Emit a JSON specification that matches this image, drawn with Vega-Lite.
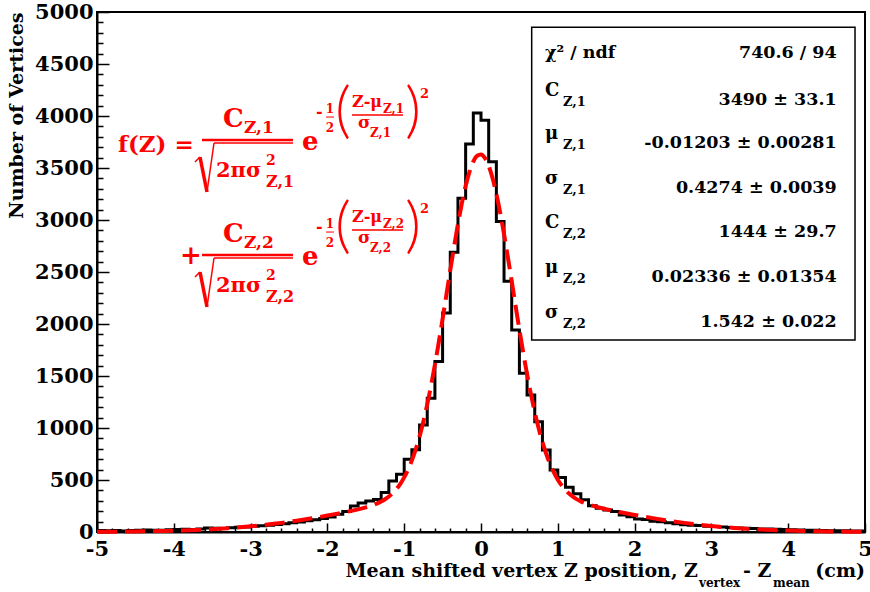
{
  "$schema": "https://vega.github.io/schema/vega-lite/v6.json",
  "width": 768,
  "height": 520,
  "autosize": "none",
  "padding": {"left": 97, "top": 12, "right": 5, "bottom": 60},
  "background": "white",
  "config": {
    "view": {"stroke": "black", "strokeWidth": 2},
    "font": "DejaVu Serif",
    "text": {"font": "DejaVu Serif", "fontWeight": "bold"}
  },
  "datasets": {
    "hist": [
      {"x": -5.0, "n": 15}, {"x": -4.9, "n": 12}, {"x": -4.8, "n": 14}, {"x": -4.7, "n": 10}, {"x": -4.6, "n": 15},
      {"x": -4.5, "n": 18}, {"x": -4.4, "n": 20}, {"x": -4.3, "n": 16}, {"x": -4.2, "n": 17}, {"x": -4.1, "n": 22},
      {"x": -4.0, "n": 24}, {"x": -3.9, "n": 26}, {"x": -3.8, "n": 24}, {"x": -3.7, "n": 30}, {"x": -3.6, "n": 38},
      {"x": -3.5, "n": 36}, {"x": -3.4, "n": 34}, {"x": -3.3, "n": 40}, {"x": -3.2, "n": 45}, {"x": -3.1, "n": 48},
      {"x": -3.0, "n": 55}, {"x": -2.9, "n": 60}, {"x": -2.8, "n": 66}, {"x": -2.7, "n": 72}, {"x": -2.6, "n": 80},
      {"x": -2.5, "n": 88}, {"x": -2.4, "n": 96}, {"x": -2.3, "n": 108}, {"x": -2.2, "n": 118}, {"x": -2.1, "n": 130},
      {"x": -2.0, "n": 145}, {"x": -1.9, "n": 170}, {"x": -1.8, "n": 196}, {"x": -1.7, "n": 250}, {"x": -1.6, "n": 280},
      {"x": -1.5, "n": 298}, {"x": -1.4, "n": 312}, {"x": -1.3, "n": 380}, {"x": -1.2, "n": 490}, {"x": -1.1, "n": 555},
      {"x": -1.0, "n": 700}, {"x": -0.9, "n": 790}, {"x": -0.8, "n": 1030}, {"x": -0.7, "n": 1285}, {"x": -0.6, "n": 1640},
      {"x": -0.5, "n": 2105}, {"x": -0.4, "n": 2690}, {"x": -0.3, "n": 3210}, {"x": -0.2, "n": 3730}, {"x": -0.1, "n": 4030},
      {"x": 0.0, "n": 3960}, {"x": 0.1, "n": 3560}, {"x": 0.2, "n": 2985}, {"x": 0.3, "n": 2410}, {"x": 0.4, "n": 1942},
      {"x": 0.5, "n": 1526}, {"x": 0.6, "n": 1317}, {"x": 0.7, "n": 1061}, {"x": 0.8, "n": 788}, {"x": 0.9, "n": 596},
      {"x": 1.0, "n": 525}, {"x": 1.1, "n": 430}, {"x": 1.2, "n": 368}, {"x": 1.3, "n": 310}, {"x": 1.4, "n": 252},
      {"x": 1.5, "n": 228}, {"x": 1.6, "n": 212}, {"x": 1.7, "n": 196}, {"x": 1.8, "n": 163}, {"x": 1.9, "n": 147},
      {"x": 2.0, "n": 124}, {"x": 2.1, "n": 120}, {"x": 2.2, "n": 104}, {"x": 2.3, "n": 99}, {"x": 2.4, "n": 88},
      {"x": 2.5, "n": 80}, {"x": 2.6, "n": 70}, {"x": 2.7, "n": 66}, {"x": 2.8, "n": 62}, {"x": 2.9, "n": 56},
      {"x": 3.0, "n": 52}, {"x": 3.1, "n": 48}, {"x": 3.2, "n": 44}, {"x": 3.3, "n": 38}, {"x": 3.4, "n": 36},
      {"x": 3.5, "n": 34}, {"x": 3.6, "n": 30}, {"x": 3.7, "n": 28}, {"x": 3.8, "n": 26}, {"x": 3.9, "n": 24},
      {"x": 4.0, "n": 22}, {"x": 4.1, "n": 20}, {"x": 4.2, "n": 18}, {"x": 4.3, "n": 16}, {"x": 4.4, "n": 14},
      {"x": 4.5, "n": 13}, {"x": 4.6, "n": 12}, {"x": 4.7, "n": 11}, {"x": 4.8, "n": 10}, {"x": 4.9, "n": 10},
      {"x": 5.0, "n": 10}
    ],
    "fit": [
      {"x": -5.0, "f": 1.85}, {"x": -4.9, "f": 2.28}, {"x": -4.8, "f": 2.8}, {"x": -4.7, "f": 3.43}, {"x": -4.6, "f": 4.17},
      {"x": -4.5, "f": 5.06}, {"x": -4.4, "f": 6.1}, {"x": -4.3, "f": 7.33}, {"x": -4.2, "f": 8.78}, {"x": -4.1, "f": 10.46},
      {"x": -4.0, "f": 12.42}, {"x": -3.9, "f": 14.67}, {"x": -3.8, "f": 17.27}, {"x": -3.7, "f": 20.25}, {"x": -3.6, "f": 23.63},
      {"x": -3.5, "f": 27.46}, {"x": -3.4, "f": 31.77}, {"x": -3.3, "f": 36.62}, {"x": -3.2, "f": 42.02}, {"x": -3.1, "f": 48.03},
      {"x": -3.0, "f": 54.65}, {"x": -2.9, "f": 61.93}, {"x": -2.8, "f": 69.89}, {"x": -2.7, "f": 78.53}, {"x": -2.6, "f": 87.87},
      {"x": -2.5, "f": 97.93}, {"x": -2.4, "f": 108.66}, {"x": -2.3, "f": 120.07}, {"x": -2.2, "f": 132.11}, {"x": -2.1, "f": 144.76},
      {"x": -2.0, "f": 158.0}, {"x": -1.9, "f": 171.8}, {"x": -1.8, "f": 186.2}, {"x": -1.7, "f": 201.4}, {"x": -1.6, "f": 217.9},
      {"x": -1.55, "f": 227.0}, {"x": -1.5, "f": 236.9}, {"x": -1.45, "f": 248.0}, {"x": -1.4, "f": 260.7}, {"x": -1.35, "f": 275.6},
      {"x": -1.3, "f": 293.3}, {"x": -1.25, "f": 314.7}, {"x": -1.2, "f": 341.1}, {"x": -1.15, "f": 373.7}, {"x": -1.1, "f": 414.1},
      {"x": -1.05, "f": 463.7}, {"x": -1.0, "f": 525.0}, {"x": -0.95, "f": 599.2}, {"x": -0.9, "f": 688.7}, {"x": -0.85, "f": 794.6},
      {"x": -0.8, "f": 919.4}, {"x": -0.75, "f": 1063.0}, {"x": -0.7, "f": 1226.5}, {"x": -0.65, "f": 1408.6}, {"x": -0.6, "f": 1608.8},
      {"x": -0.55, "f": 1823.8}, {"x": -0.5, "f": 2050.3}, {"x": -0.45, "f": 2283.3}, {"x": -0.4, "f": 2517.5}, {"x": -0.35, "f": 2745.6},
      {"x": -0.3, "f": 2961.5}, {"x": -0.25, "f": 3157.5}, {"x": -0.2, "f": 3327.0}, {"x": -0.15, "f": 3463.2}, {"x": -0.1, "f": 3561.7},
      {"x": -0.05, "f": 3617.8}, {"x": 0.0, "f": 3629.9}, {"x": 0.05, "f": 3596.8}, {"x": 0.1, "f": 3520.7}, {"x": 0.15, "f": 3403.8},
      {"x": 0.2, "f": 3251.6}, {"x": 0.25, "f": 3068.9}, {"x": 0.3, "f": 2863.1}, {"x": 0.35, "f": 2640.7}, {"x": 0.4, "f": 2409.5},
      {"x": 0.45, "f": 2175.5}, {"x": 0.5, "f": 1945.6}, {"x": 0.55, "f": 1724.4}, {"x": 0.6, "f": 1516.9}, {"x": 0.65, "f": 1325.3},
      {"x": 0.7, "f": 1152.6}, {"x": 0.75, "f": 998.9}, {"x": 0.8, "f": 865.0}, {"x": 0.85, "f": 749.7}, {"x": 0.9, "f": 652.2},
      {"x": 0.95, "f": 570.5}, {"x": 1.0, "f": 503.1}, {"x": 1.05, "f": 447.8}, {"x": 1.1, "f": 403.2}, {"x": 1.15, "f": 366.9},
      {"x": 1.2, "f": 337.7}, {"x": 1.25, "f": 313.9}, {"x": 1.3, "f": 294.5}, {"x": 1.35, "f": 278.3}, {"x": 1.4, "f": 264.7},
      {"x": 1.45, "f": 252.9}, {"x": 1.5, "f": 242.4}, {"x": 1.55, "f": 233.0}, {"x": 1.6, "f": 224.2}, {"x": 1.7, "f": 207.9},
      {"x": 1.8, "f": 192.8}, {"x": 1.9, "f": 178.2}, {"x": 2.0, "f": 164.3}, {"x": 2.1, "f": 150.9}, {"x": 2.2, "f": 138.0},
      {"x": 2.3, "f": 125.6}, {"x": 2.4, "f": 113.9}, {"x": 2.5, "f": 102.9}, {"x": 2.6, "f": 92.5}, {"x": 2.7, "f": 82.8},
      {"x": 2.8, "f": 73.9}, {"x": 2.9, "f": 65.6}, {"x": 3.0, "f": 58.0}, {"x": 3.1, "f": 51.1}, {"x": 3.2, "f": 44.8},
      {"x": 3.3, "f": 39.1}, {"x": 3.4, "f": 34.0}, {"x": 3.5, "f": 29.4}, {"x": 3.6, "f": 25.4}, {"x": 3.7, "f": 21.8},
      {"x": 3.8, "f": 18.6}, {"x": 3.9, "f": 15.9}, {"x": 4.0, "f": 13.4}, {"x": 4.1, "f": 11.3}, {"x": 4.2, "f": 9.5},
      {"x": 4.3, "f": 8.0}, {"x": 4.4, "f": 6.7}, {"x": 4.5, "f": 5.5}, {"x": 4.6, "f": 4.6}, {"x": 4.7, "f": 3.8},
      {"x": 4.8, "f": 3.1}, {"x": 4.9, "f": 2.5}, {"x": 5.0, "f": 2.1}
    ],
    "stats": [
      {"row": 1, "sym": "χ² / ndf", "sub": "", "val": "740.6 / 94"},
      {"row": 2, "sym": "C", "sub": "Z,1", "val": "3490 ± 33.1"},
      {"row": 3, "sym": "μ", "sub": "Z,1", "val": "-0.01203 ± 0.00281"},
      {"row": 4, "sym": "σ", "sub": "Z,1", "val": "0.4274 ± 0.0039"},
      {"row": 5, "sym": "C", "sub": "Z,2", "val": "1444 ± 29.7"},
      {"row": 6, "sym": "μ", "sub": "Z,2", "val": "0.02336 ± 0.01354"},
      {"row": 7, "sym": "σ", "sub": "Z,2", "val": "1.542 ± 0.022"}
    ]
  },
  "resolve": {"axis": {"x": "independent", "y": "independent"}},
  "layer": [
    {
      "data": {"values": [{}]},
      "layer": [
        {
          "data": {"name": "hist"},
          "mark": {"type": "line", "interpolate": "step-after", "color": "black", "strokeWidth": 3},
          "encoding": {
            "x": {"field": "x", "type": "quantitative",
              "scale": {"domain": [-5, 5], "nice": false, "zero": false},
              "axis": {"orient": "bottom", "values": [-5, -4, -3, -2, -1, 0, 1, 2, 3, 4, 5], "labelExpr": "'' + datum.value",
                "tickSize": -9, "tickWidth": 1.5, "tickColor": "black", "domainColor": "black", "domainWidth": 2,
                "labelFont": "DejaVu Serif", "labelFontWeight": "bold", "labelFontSize": 21, "labelColor": "black",
                "labelPadding": 15, "labelOverlap": false, "labelFlush": false, "title": null, "grid": false}},
            "y": {"field": "n", "type": "quantitative",
              "scale": {"domain": [0, 5000], "nice": false, "zero": true},
              "axis": {"orient": "left", "values": [0, 500, 1000, 1500, 2000, 2500, 3000, 3500, 4000, 4500, 5000], "labelExpr": "'' + datum.value",
                "tickSize": -12, "tickWidth": 1.5, "tickColor": "black", "domainColor": "black", "domainWidth": 2,
                "labelFont": "DejaVu Serif", "labelFontWeight": "bold", "labelFontSize": 21, "labelColor": "black",
                "labelPadding": 16, "labelOverlap": false, "labelFlush": false, "grid": false,
                "title": "Number of Vertices", "titleFont": "DejaVu Serif", "titleFontWeight": "bold", "titleFontSize": 19,
                "titleColor": "black", "titleAnchor": "end", "titlePadding": 8}}
          }
        },
        {
          "mark": {"type": "rect", "fill": "white", "stroke": "black", "strokeWidth": 1.5},
          "encoding": {"x": {"datum": 0.66}, "x2": {"datum": 4.87}, "y": {"datum": 4853}, "y2": {"datum": 1846}}
        },
        {
          "data": {"name": "stats"},
          "transform": [{"filter": "datum.row == 1"}],
          "encoding": {"y": {"datum": 4557.7}},
          "layer": [
            {"mark": {"type": "text", "align": "left", "baseline": "alphabetic", "fontSize": 17.5, "color": "black"},
              "encoding": {"x": {"datum": 0.8333}, "text": {"field": "sym"}}},
            {"mark": {"type": "text", "align": "right", "baseline": "alphabetic", "fontSize": 17.5, "color": "black"},
              "encoding": {"x": {"datum": 4.6315}, "text": {"field": "val"}}}
          ]
        },
        {
          "data": {"name": "stats"},
          "transform": [{"filter": "datum.row == 2"}],
          "encoding": {"y": {"datum": 4105.8}},
          "layer": [
            {"mark": {"type": "text", "align": "left", "baseline": "alphabetic", "fontSize": 18, "dy": -9, "color": "black"},
              "encoding": {"x": {"datum": 0.8333}, "text": {"field": "sym"}}},
            {"mark": {"type": "text", "align": "left", "baseline": "alphabetic", "fontSize": 13, "dy": 1, "color": "black"},
              "encoding": {"x": {"datum": 1.0677}, "text": {"field": "sub"}}},
            {"mark": {"type": "text", "align": "right", "baseline": "alphabetic", "fontSize": 17.5, "color": "black"},
              "encoding": {"x": {"datum": 4.6315}, "text": {"field": "val"}}}
          ]
        },
        {
          "data": {"name": "stats"},
          "transform": [{"filter": "datum.row == 3"}],
          "encoding": {"y": {"datum": 3692.3}},
          "layer": [
            {"mark": {"type": "text", "align": "left", "baseline": "alphabetic", "fontSize": 18, "dy": -9, "color": "black"},
              "encoding": {"x": {"datum": 0.8333}, "text": {"field": "sym"}}},
            {"mark": {"type": "text", "align": "left", "baseline": "alphabetic", "fontSize": 13, "dy": 1, "color": "black"},
              "encoding": {"x": {"datum": 1.0677}, "text": {"field": "sub"}}},
            {"mark": {"type": "text", "align": "right", "baseline": "alphabetic", "fontSize": 17.5, "color": "black"},
              "encoding": {"x": {"datum": 4.6315}, "text": {"field": "val"}}}
          ]
        },
        {
          "data": {"name": "stats"},
          "transform": [{"filter": "datum.row == 4"}],
          "encoding": {"y": {"datum": 3259.6}},
          "layer": [
            {"mark": {"type": "text", "align": "left", "baseline": "alphabetic", "fontSize": 18, "dy": -9, "color": "black"},
              "encoding": {"x": {"datum": 0.8333}, "text": {"field": "sym"}}},
            {"mark": {"type": "text", "align": "left", "baseline": "alphabetic", "fontSize": 13, "dy": 1, "color": "black"},
              "encoding": {"x": {"datum": 1.0677}, "text": {"field": "sub"}}},
            {"mark": {"type": "text", "align": "right", "baseline": "alphabetic", "fontSize": 17.5, "color": "black"},
              "encoding": {"x": {"datum": 4.6315}, "text": {"field": "val"}}}
          ]
        },
        {
          "data": {"name": "stats"},
          "transform": [{"filter": "datum.row == 5"}],
          "encoding": {"y": {"datum": 2836.5}},
          "layer": [
            {"mark": {"type": "text", "align": "left", "baseline": "alphabetic", "fontSize": 18, "dy": -9, "color": "black"},
              "encoding": {"x": {"datum": 0.8333}, "text": {"field": "sym"}}},
            {"mark": {"type": "text", "align": "left", "baseline": "alphabetic", "fontSize": 13, "dy": 1, "color": "black"},
              "encoding": {"x": {"datum": 1.0677}, "text": {"field": "sub"}}},
            {"mark": {"type": "text", "align": "right", "baseline": "alphabetic", "fontSize": 17.5, "color": "black"},
              "encoding": {"x": {"datum": 4.6315}, "text": {"field": "val"}}}
          ]
        },
        {
          "data": {"name": "stats"},
          "transform": [{"filter": "datum.row == 6"}],
          "encoding": {"y": {"datum": 2403.8}},
          "layer": [
            {"mark": {"type": "text", "align": "left", "baseline": "alphabetic", "fontSize": 18, "dy": -9, "color": "black"},
              "encoding": {"x": {"datum": 0.8333}, "text": {"field": "sym"}}},
            {"mark": {"type": "text", "align": "left", "baseline": "alphabetic", "fontSize": 13, "dy": 1, "color": "black"},
              "encoding": {"x": {"datum": 1.0677}, "text": {"field": "sub"}}},
            {"mark": {"type": "text", "align": "right", "baseline": "alphabetic", "fontSize": 17.5, "color": "black"},
              "encoding": {"x": {"datum": 4.6315}, "text": {"field": "val"}}}
          ]
        },
        {
          "data": {"name": "stats"},
          "transform": [{"filter": "datum.row == 7"}],
          "encoding": {"y": {"datum": 1971.2}},
          "layer": [
            {"mark": {"type": "text", "align": "left", "baseline": "alphabetic", "fontSize": 18, "dy": -9, "color": "black"},
              "encoding": {"x": {"datum": 0.8333}, "text": {"field": "sym"}}},
            {"mark": {"type": "text", "align": "left", "baseline": "alphabetic", "fontSize": 13, "dy": 1, "color": "black"},
              "encoding": {"x": {"datum": 1.0677}, "text": {"field": "sub"}}},
            {"mark": {"type": "text", "align": "right", "baseline": "alphabetic", "fontSize": 17.5, "color": "black"},
              "encoding": {"x": {"datum": 4.6315}, "text": {"field": "val"}}}
          ]
        },
        {"mark": {"type": "text", "text": "f(Z) =", "align": "left", "baseline": "alphabetic", "fontSize": 23, "color": "#ff0000"},
          "encoding": {"x": {"datum": -4.7266}, "y": {"datum": 3653.8}}},
        {"mark": {"type": "text", "text": "C", "align": "left", "baseline": "alphabetic", "fontSize": 26, "color": "#ff0000"},
          "encoding": {"x": {"datum": -3.3594}, "y": {"datum": 3894.2}}},
        {"mark": {"type": "text", "text": "Z,1", "align": "left", "baseline": "alphabetic", "fontSize": 17, "color": "#ff0000"},
          "encoding": {"x": {"datum": -3.0859}, "y": {"datum": 3836.5}}},
        {"mark": {"type": "rule", "color": "#ff0000", "strokeWidth": 2.5},
          "encoding": {"x": {"datum": -3.6328}, "x2": {"datum": -2.4479}, "y": {"datum": 3769.2}}},
        {"mark": {"type": "rule", "color": "#ff0000", "strokeWidth": 1.5},
          "encoding": {"x": {"datum": -3.724}, "x2": {"datum": -3.6589}, "y": {"datum": 3557.7}, "y2": {"datum": 3605.8}}},
        {"mark": {"type": "rule", "color": "#ff0000", "strokeWidth": 3.5},
          "encoding": {"x": {"datum": -3.6589}, "x2": {"datum": -3.5677}, "y": {"datum": 3605.8}, "y2": {"datum": 3269.2}}},
        {"mark": {"type": "rule", "color": "#ff0000", "strokeWidth": 1.5},
          "encoding": {"x": {"datum": -3.5677}, "x2": {"datum": -3.4766}, "y": {"datum": 3269.2}, "y2": {"datum": 3740.4}}},
        {"mark": {"type": "rule", "color": "#ff0000", "strokeWidth": 1.5},
          "encoding": {"x": {"datum": -3.4766}, "x2": {"datum": -2.4479}, "y": {"datum": 3740.4}}},
        {"mark": {"type": "text", "text": "2πσ", "align": "left", "baseline": "alphabetic", "fontSize": 21, "color": "#ff0000"},
          "encoding": {"x": {"datum": -3.4505}, "y": {"datum": 3413.5}}},
        {"mark": {"type": "text", "text": "2", "align": "left", "baseline": "alphabetic", "fontSize": 14, "color": "#ff0000"},
          "encoding": {"x": {"datum": -2.7995}, "y": {"datum": 3528.8}}},
        {"mark": {"type": "text", "text": "Z,1", "align": "left", "baseline": "alphabetic", "fontSize": 16, "color": "#ff0000"},
          "encoding": {"x": {"datum": -2.7995}, "y": {"datum": 3317.3}}},
        {"mark": {"type": "text", "text": "e", "align": "left", "baseline": "alphabetic", "fontSize": 26, "color": "#ff0000"},
          "encoding": {"x": {"datum": -2.3307}, "y": {"datum": 3673.1}}},
        {"mark": {"type": "text", "text": "-", "align": "left", "baseline": "alphabetic", "fontSize": 16, "color": "#ff0000"},
          "encoding": {"x": {"datum": -2.1484}, "y": {"datum": 3990.4}}},
        {"mark": {"type": "text", "text": "1", "align": "center", "baseline": "alphabetic", "fontSize": 12, "color": "#ff0000"},
          "encoding": {"x": {"datum": -1.9661}, "y": {"datum": 4028.8}}},
        {"mark": {"type": "text", "text": "2", "align": "center", "baseline": "alphabetic", "fontSize": 12, "color": "#ff0000"},
          "encoding": {"x": {"datum": -1.9661}, "y": {"datum": 3846.2}}},
        {"mark": {"type": "rule", "color": "#ff0000", "strokeWidth": 1},
          "encoding": {"x": {"datum": -2.0182}, "x2": {"datum": -1.914}, "y": {"datum": 3990}}},
        {"mark": {"type": "text", "text": "(", "align": "left", "baseline": "alphabetic", "font": "Lato", "fontWeight": 300, "fontSize": 62, "color": "#ff0000"},
          "encoding": {"x": {"datum": -1.901}, "y": {"datum": 3851}}},
        {"mark": {"type": "text", "text": "Z-μ", "align": "left", "baseline": "alphabetic", "fontSize": 16, "color": "#ff0000"},
          "encoding": {"x": {"datum": -1.6797}, "y": {"datum": 4086.5}}},
        {"mark": {"type": "text", "text": "Z,1", "align": "left", "baseline": "alphabetic", "fontSize": 12, "color": "#ff0000"},
          "encoding": {"x": {"datum": -1.276}, "y": {"datum": 4028.8}}},
        {"mark": {"type": "rule", "color": "#ff0000", "strokeWidth": 1.5},
          "encoding": {"x": {"datum": -1.6797}, "x2": {"datum": -1.0156}, "y": {"datum": 4009.6}}},
        {"mark": {"type": "text", "text": "σ", "align": "left", "baseline": "alphabetic", "fontSize": 17, "color": "#ff0000"},
          "encoding": {"x": {"datum": -1.6016}, "y": {"datum": 3884.6}}},
        {"mark": {"type": "text", "text": "Z,1", "align": "left", "baseline": "alphabetic", "fontSize": 12, "color": "#ff0000"},
          "encoding": {"x": {"datum": -1.4453}, "y": {"datum": 3798.1}}},
        {"mark": {"type": "text", "text": ")", "align": "left", "baseline": "alphabetic", "font": "Lato", "fontWeight": 300, "fontSize": 62, "color": "#ff0000"},
          "encoding": {"x": {"datum": -0.9896}, "y": {"datum": 3851}}},
        {"mark": {"type": "text", "text": "2", "align": "left", "baseline": "alphabetic", "fontSize": 13, "color": "#ff0000"},
          "encoding": {"x": {"datum": -0.7943}, "y": {"datum": 4173.1}}},

        {"mark": {"type": "text", "text": "+", "align": "left", "baseline": "alphabetic", "fontSize": 26, "color": "#ff0000"},
          "encoding": {"x": {"datum": -3.9193}, "y": {"datum": 2576.9}}},
        {"mark": {"type": "text", "text": "C", "align": "left", "baseline": "alphabetic", "fontSize": 26, "color": "#ff0000"},
          "encoding": {"x": {"datum": -3.3594}, "y": {"datum": 2788.4}}},
        {"mark": {"type": "text", "text": "Z,2", "align": "left", "baseline": "alphabetic", "fontSize": 17, "color": "#ff0000"},
          "encoding": {"x": {"datum": -3.0859}, "y": {"datum": 2730.7}}},
        {"mark": {"type": "rule", "color": "#ff0000", "strokeWidth": 2.5},
          "encoding": {"x": {"datum": -3.6328}, "x2": {"datum": -2.4479}, "y": {"datum": 2663.4}}},
        {"mark": {"type": "rule", "color": "#ff0000", "strokeWidth": 1.5},
          "encoding": {"x": {"datum": -3.724}, "x2": {"datum": -3.6589}, "y": {"datum": 2451.9}, "y2": {"datum": 2500.0}}},
        {"mark": {"type": "rule", "color": "#ff0000", "strokeWidth": 3.5},
          "encoding": {"x": {"datum": -3.6589}, "x2": {"datum": -3.5677}, "y": {"datum": 2500.0}, "y2": {"datum": 2163.4}}},
        {"mark": {"type": "rule", "color": "#ff0000", "strokeWidth": 1.5},
          "encoding": {"x": {"datum": -3.5677}, "x2": {"datum": -3.4766}, "y": {"datum": 2163.4}, "y2": {"datum": 2634.6}}},
        {"mark": {"type": "rule", "color": "#ff0000", "strokeWidth": 1.5},
          "encoding": {"x": {"datum": -3.4766}, "x2": {"datum": -2.4479}, "y": {"datum": 2634.6}}},
        {"mark": {"type": "text", "text": "2πσ", "align": "left", "baseline": "alphabetic", "fontSize": 21, "color": "#ff0000"},
          "encoding": {"x": {"datum": -3.4505}, "y": {"datum": 2307.7}}},
        {"mark": {"type": "text", "text": "2", "align": "left", "baseline": "alphabetic", "fontSize": 14, "color": "#ff0000"},
          "encoding": {"x": {"datum": -2.7995}, "y": {"datum": 2423.0}}},
        {"mark": {"type": "text", "text": "Z,2", "align": "left", "baseline": "alphabetic", "fontSize": 16, "color": "#ff0000"},
          "encoding": {"x": {"datum": -2.7995}, "y": {"datum": 2211.5}}},
        {"mark": {"type": "text", "text": "e", "align": "left", "baseline": "alphabetic", "fontSize": 26, "color": "#ff0000"},
          "encoding": {"x": {"datum": -2.3307}, "y": {"datum": 2567.3}}},
        {"mark": {"type": "text", "text": "-", "align": "left", "baseline": "alphabetic", "fontSize": 16, "color": "#ff0000"},
          "encoding": {"x": {"datum": -2.1484}, "y": {"datum": 2884.6}}},
        {"mark": {"type": "text", "text": "1", "align": "center", "baseline": "alphabetic", "fontSize": 12, "color": "#ff0000"},
          "encoding": {"x": {"datum": -1.9661}, "y": {"datum": 2923.0}}},
        {"mark": {"type": "text", "text": "2", "align": "center", "baseline": "alphabetic", "fontSize": 12, "color": "#ff0000"},
          "encoding": {"x": {"datum": -1.9661}, "y": {"datum": 2740.4}}},
        {"mark": {"type": "rule", "color": "#ff0000", "strokeWidth": 1},
          "encoding": {"x": {"datum": -2.0182}, "x2": {"datum": -1.914}, "y": {"datum": 2884.2}}},
        {"mark": {"type": "text", "text": "(", "align": "left", "baseline": "alphabetic", "font": "Lato", "fontWeight": 300, "fontSize": 62, "color": "#ff0000"},
          "encoding": {"x": {"datum": -1.901}, "y": {"datum": 2745.2}}},
        {"mark": {"type": "text", "text": "Z-μ", "align": "left", "baseline": "alphabetic", "fontSize": 16, "color": "#ff0000"},
          "encoding": {"x": {"datum": -1.6797}, "y": {"datum": 2980.7}}},
        {"mark": {"type": "text", "text": "Z,2", "align": "left", "baseline": "alphabetic", "fontSize": 12, "color": "#ff0000"},
          "encoding": {"x": {"datum": -1.276}, "y": {"datum": 2923.0}}},
        {"mark": {"type": "rule", "color": "#ff0000", "strokeWidth": 1.5},
          "encoding": {"x": {"datum": -1.6797}, "x2": {"datum": -1.0156}, "y": {"datum": 2903.8}}},
        {"mark": {"type": "text", "text": "σ", "align": "left", "baseline": "alphabetic", "fontSize": 17, "color": "#ff0000"},
          "encoding": {"x": {"datum": -1.6016}, "y": {"datum": 2778.8}}},
        {"mark": {"type": "text", "text": "Z,2", "align": "left", "baseline": "alphabetic", "fontSize": 12, "color": "#ff0000"},
          "encoding": {"x": {"datum": -1.4453}, "y": {"datum": 2692.3}}},
        {"mark": {"type": "text", "text": ")", "align": "left", "baseline": "alphabetic", "font": "Lato", "fontWeight": 300, "fontSize": 62, "color": "#ff0000"},
          "encoding": {"x": {"datum": -0.9896}, "y": {"datum": 2745.2}}},
        {"mark": {"type": "text", "text": "2", "align": "left", "baseline": "alphabetic", "fontSize": 13, "color": "#ff0000"},
          "encoding": {"x": {"datum": -0.7943}, "y": {"datum": 3067.3}}},

        {"mark": {"type": "text", "text": "Mean shifted vertex Z position, Z", "align": "right", "baseline": "alphabetic", "fontSize": 19, "color": "black"},
          "encoding": {"x": {"datum": 2.8255}, "y": {"datum": -436}}},
        {"mark": {"type": "text", "text": "vertex", "align": "left", "baseline": "alphabetic", "fontSize": 12, "color": "black"},
          "encoding": {"x": {"datum": 2.8385}, "y": {"datum": -530}}},
        {"mark": {"type": "text", "text": "- Z", "align": "left", "baseline": "alphabetic", "fontSize": 19, "color": "black"},
          "encoding": {"x": {"datum": 3.411}, "y": {"datum": -436}}},
        {"mark": {"type": "text", "text": "mean", "align": "left", "baseline": "alphabetic", "fontSize": 12, "color": "black"},
          "encoding": {"x": {"datum": 3.802}, "y": {"datum": -530}}},
        {"mark": {"type": "text", "text": "(cm)", "align": "right", "baseline": "alphabetic", "fontSize": 19, "color": "black"},
          "encoding": {"x": {"datum": 5.0}, "y": {"datum": -436}}}
      ]
    },
    {
      "data": {"name": "fit"},
      "mark": {"type": "line", "color": "#ff0000", "strokeWidth": 4, "strokeDash": [20, 8], "interpolate": "monotone"},
      "encoding": {
        "x": {"field": "x", "type": "quantitative",
          "scale": {"domain": [-5, 5], "nice": false, "zero": false},
          "axis": {"orient": "bottom", "values": [-4.8, -4.6, -4.4, -4.2, -3.8, -3.6, -3.4, -3.2, -2.8, -2.6, -2.4, -2.2, -1.8, -1.6, -1.4, -1.2, -0.8, -0.6, -0.4, -0.2, 0.2, 0.4, 0.6, 0.8, 1.2, 1.4, 1.6, 1.8, 2.2, 2.4, 2.6, 2.8, 3.2, 3.4, 3.6, 3.8, 4.2, 4.4, 4.6, 4.8],
            "labels": false, "domain": false, "tickSize": -4, "tickWidth": 1.5, "tickColor": "black", "title": null, "grid": false}},
        "y": {"field": "f", "type": "quantitative",
          "scale": {"domain": [0, 5000], "nice": false, "zero": true},
          "axis": {"orient": "left", "values": [100, 200, 300, 400, 600, 700, 800, 900, 1100, 1200, 1300, 1400, 1600, 1700, 1800, 1900, 2100, 2200, 2300, 2400, 2600, 2700, 2800, 2900, 3100, 3200, 3300, 3400, 3600, 3700, 3800, 3900, 4100, 4200, 4300, 4400, 4600, 4700, 4800, 4900],
            "labels": false, "domain": false, "tickSize": -6, "tickWidth": 1.5, "tickColor": "black", "title": null, "grid": false}}
      }
    }
  ]
}
